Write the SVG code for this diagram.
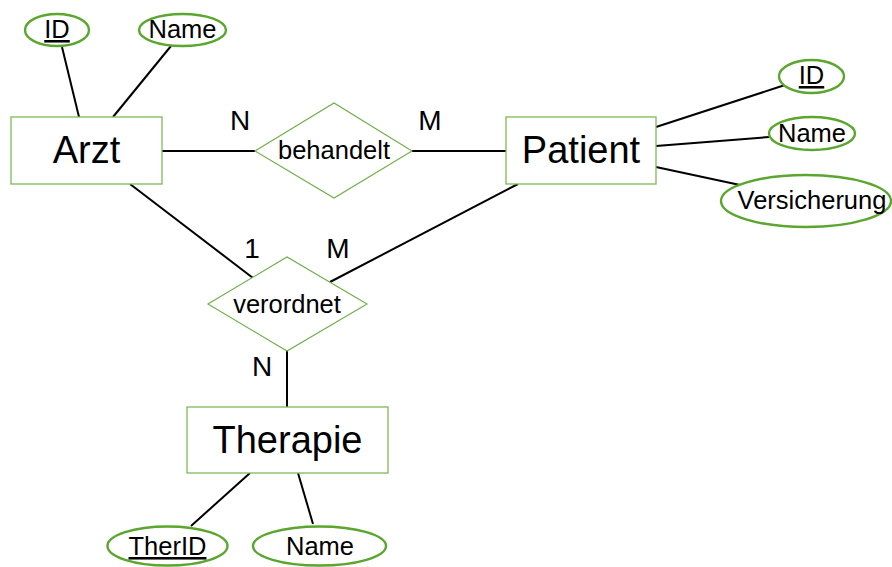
<svg xmlns="http://www.w3.org/2000/svg" width="892" height="567" viewBox="0 0 892 567">
  <style>
    .entity { fill: #ffffff; stroke: #7dbb55; stroke-width: 1.3; }
    .rel { fill: #ffffff; stroke: #70ad47; stroke-width: 1.1; }
    .attr { fill: #ffffff; stroke: #5aa62e; stroke-width: 2.4; }
    .link { stroke: #000000; stroke-width: 2; fill: none; }
    text { font-family: "Liberation Sans", Arial, sans-serif; fill: #000000; text-anchor: middle; }
    .big { font-size: 38px; }
    .mid { font-size: 25.5px; }
    .card { font-size: 28px; }
    .key { text-decoration: underline; }
  </style>

  <!-- connectors -->
  <g id="connectors">
    <line class="link" x1="62" y1="47" x2="79" y2="117"/>
    <line class="link" x1="171" y1="46" x2="113" y2="117"/>
    <line class="link" x1="162" y1="151" x2="255" y2="151"/>
    <line class="link" x1="412" y1="151" x2="506" y2="151"/>
    <line class="link" x1="656" y1="127" x2="785" y2="85"/>
    <line class="link" x1="656" y1="146" x2="769" y2="137"/>
    <line class="link" x1="656" y1="167" x2="740" y2="185"/>
    <line class="link" x1="130" y1="184" x2="253" y2="278"/>
    <line class="link" x1="518" y1="184" x2="330" y2="282"/>
    <line class="link" x1="287" y1="351" x2="287" y2="407"/>
    <line class="link" x1="250" y1="473" x2="191" y2="526"/>
    <line class="link" x1="298" y1="473" x2="313" y2="524"/>
  </g>

  <!-- cardinalities -->
  <g id="cardinalities">
    <text class="card" x="240" y="130">N</text>
    <text class="card" x="430" y="130">M</text>
    <text class="card" x="252" y="258">1</text>
    <text class="card" x="338" y="258">M</text>
    <text class="card" x="262" y="376">N</text>
  </g>

  <!-- Arzt entity and attributes -->
  <g id="arzt">
    <rect class="entity" x="11" y="117" width="151" height="67"/>
    <text class="big" x="86.5" y="163">Arzt</text>
  </g>
  <g id="arzt-id">
    <ellipse class="attr" cx="57" cy="30" rx="32" ry="16"/>
    <text class="mid key" x="57" y="38">ID</text>
  </g>
  <g id="arzt-name">
    <ellipse class="attr" cx="182.5" cy="30" rx="43.5" ry="16"/>
    <text class="mid" x="182.5" y="38">Name</text>
  </g>

  <!-- behandelt relationship -->
  <g id="behandelt">
    <polygon class="rel" points="255,151 334,103 412,151 334,198"/>
    <text class="mid" x="334" y="159">behandelt</text>
  </g>

  <!-- Patient entity and attributes -->
  <g id="patient">
    <rect class="entity" x="506" y="117" width="150" height="67"/>
    <text class="big" x="581" y="163">Patient</text>
  </g>
  <g id="patient-id">
    <ellipse class="attr" cx="811.5" cy="76.5" rx="32.5" ry="16.5"/>
    <text class="mid key" x="811.5" y="84">ID</text>
  </g>
  <g id="patient-name">
    <ellipse class="attr" cx="812" cy="133.5" rx="43" ry="16.5"/>
    <text class="mid" x="812" y="142">Name</text>
  </g>
  <g id="patient-versicherung">
    <ellipse class="attr" cx="806" cy="201" rx="85" ry="26"/>
    <text class="mid" x="812" y="209">Versicherung</text>
  </g>

  <!-- verordnet relationship -->
  <g id="verordnet">
    <polygon class="rel" points="208,304 287,257 367,304 287,351"/>
    <text class="mid" x="287" y="313">verordnet</text>
  </g>

  <!-- Therapie entity and attributes -->
  <g id="therapie">
    <rect class="entity" x="187" y="407" width="201" height="66"/>
    <text class="big" x="287.5" y="453">Therapie</text>
  </g>
  <g id="therapie-id">
    <ellipse class="attr" cx="167.5" cy="546" rx="60" ry="19.5"/>
    <text class="mid key" x="167.5" y="555">TherID</text>
  </g>
  <g id="therapie-name">
    <ellipse class="attr" cx="319.5" cy="546" rx="66.5" ry="19.5"/>
    <text class="mid" x="320" y="555">Name</text>
  </g>
</svg>
